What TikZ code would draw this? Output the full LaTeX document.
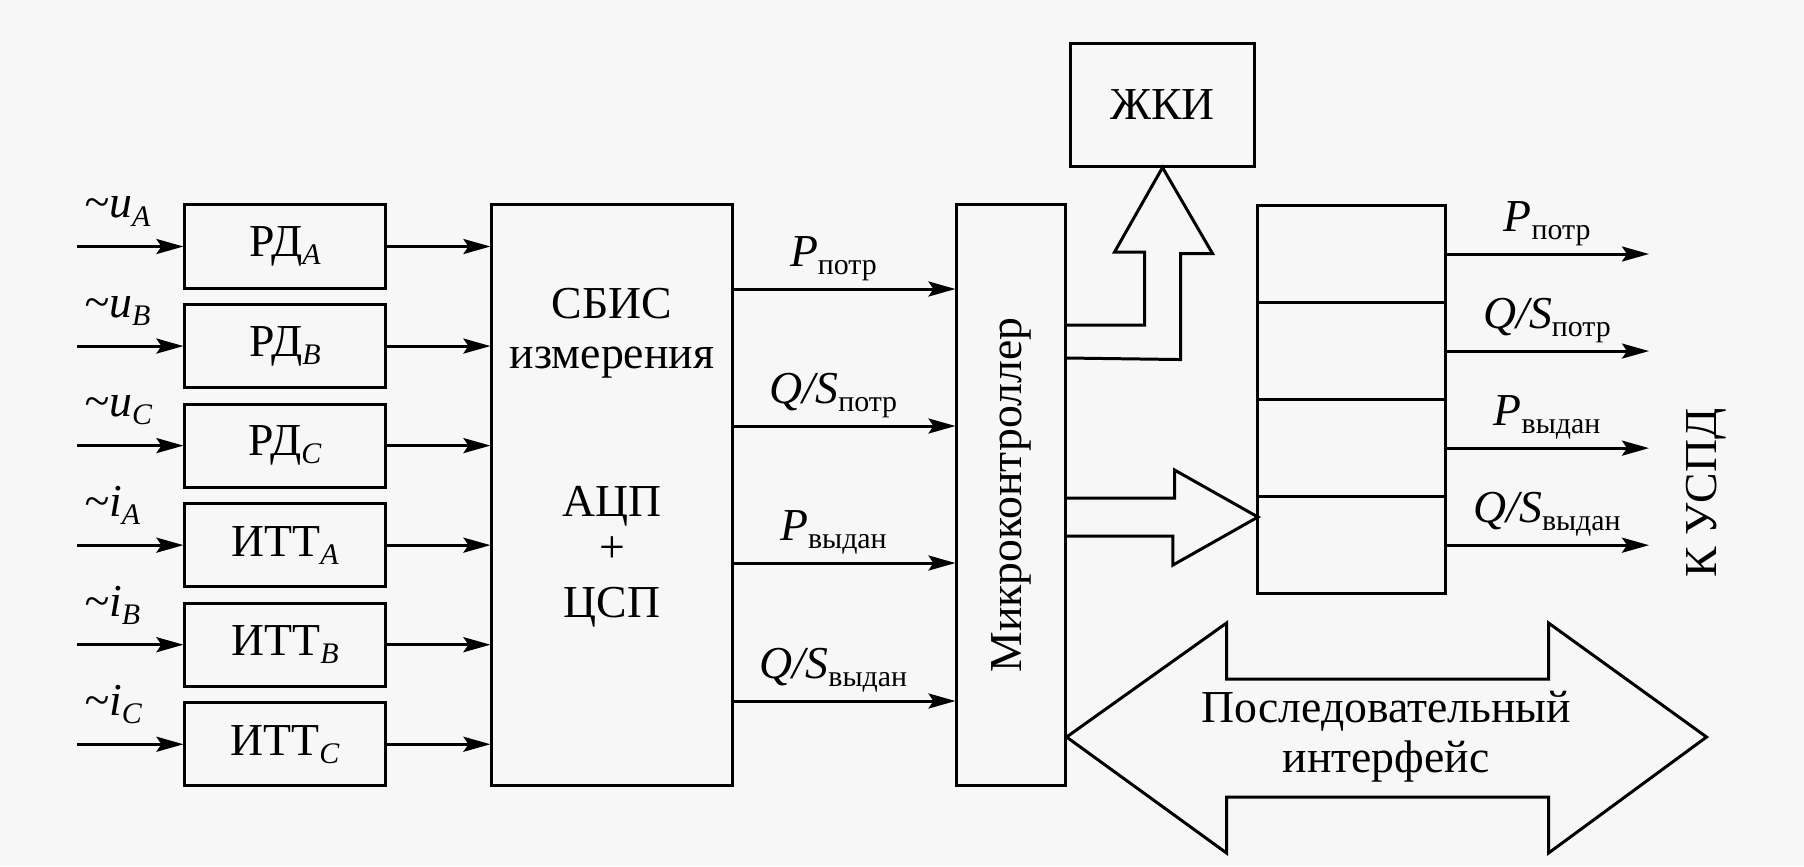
\documentclass[tikz,border=0pt]{standalone}
\usepackage{fontspec}
\setmainfont{Liberation Serif}
\usetikzlibrary{positioning,arrows.meta}

\newcommand\nizh[1]{\raisebox{-2.3pt}{\fontsize{8.5}{9}\selectfont #1}}

\begin{document}
\begin{tikzpicture}[
  x=0.01cm, y=-0.01cm,
  node distance=1.35mm and 8mm,
  blok/.style={draw, line width=0.85pt, minimum width=2cm, minimum height=0.83cm, inner sep=0pt, font=\fontsize{13}{14.2}\selectfont},
  yachejka/.style={draw, line width=0.85pt, minimum width=1.87cm, minimum height=0.97cm, outer sep=0pt},
  strelka/.style={-{Stealth[length=2.7mm, width=1.5mm, inset=0.5mm]}, line width=0.85pt},
  tolsto/.style={line width=0.85pt},
  metka/.style={anchor=south west, inner sep=0pt, xshift=0.06cm, yshift=0.19cm, font=\fontsize{13}{14.2}\selectfont\itshape},
  signal/.style={above, inner sep=2pt, font=\fontsize{13}{14.2}\selectfont},
  tekst/.style={align=center, font=\fontsize{13}{14.2}\selectfont}
]
\fill[black!3] (0,0) rectangle (1804,866);
\useasboundingbox (0,0) rectangle (1804,866);

% входные преобразователи
\node[blok] (rdA) at (285,246.5) {РД\nizh{\textit{A}}};
\node[blok, below=of rdA] (rdB) {РД\nizh{\textit{B}}};
\node[blok, below=of rdB] (rdC) {РД\nizh{\textit{C}}};
\node[blok, below=of rdC] (ittA) {ИТТ\nizh{\textit{A}}};
\node[blok, below=of ittA] (ittB) {ИТТ\nizh{\textit{B}}};
\node[blok, below=of ittB] (ittC) {ИТТ\nizh{\textit{C}}};

\node[blok, minimum width=2.4cm, minimum height=5.8cm] (sbis) at (612,495) {};
\node[tekst] (sbistekst) at (612,458) {СБИС\\измерения\\[0.98cm]АЦП\\[-0.04cm]+\\[0.05cm]ЦСП};

\node[blok, minimum width=1.08cm, minimum height=5.8cm,
  label={[rotate=90, font=\fontsize{13}{14.2}\selectfont]center:Микроконтроллер}] (mk) at (1011,495) {};
\node[blok, minimum width=1.83cm, minimum height=1.22cm] (zhki) at (1162.5,105) {ЖКИ};

% регистр
\node[yachejka] (r1) at (1351.5,254) {};
\node[yachejka, below=0pt of r1] (r2) {};
\node[yachejka, below=0pt of r2] (r3) {};
\node[yachejka, below=0pt of r3] (r4) {};

\coordinate (vhod) at (77,0);
\coordinate (uspd) at (1649,0);

\foreach \uzel/\vh in {rdA/u\nizh{A}, rdB/u\nizh{B}, rdC/u\nizh{C}, ittA/i\nizh{A}, ittB/i\nizh{B}, ittC/i\nizh{C}} {
  \draw[strelka] (\uzel.west -| vhod) node[metka] {\textasciitilde\vh} -- (\uzel);
  \draw[strelka] (\uzel) -- (\uzel -| sbis.west);
}

\foreach \y/\txt in {289/{\textit{P}\nizh{потр}}, 426/{\textit{Q/S}\nizh{потр}}, 563/{\textit{P}\nizh{выдан}}, 701/{\textit{Q/S}\nizh{выдан}}}
  \draw[strelka] (sbis.east |- 0,\y) -- node[signal, pos=0.45] {\txt} (mk.west |- 0,\y);

\foreach \i/\txt in {1/{\textit{P}\nizh{потр}}, 2/{\textit{Q/S}\nizh{потр}}, 3/{\textit{P}\nizh{выдан}}, 4/{\textit{Q/S}\nizh{выдан}}}
  \draw[strelka] (r\i.east) -- node[signal] {\txt} (r\i.east -| uspd);

\node[tekst, rotate=90] (uspdtekst) at (1706,493) {К УСПД};

% широкие стрелки
\draw[tolsto] (mk.east |- 0,325) -- ++(78,0) -- ++(0,-73) -- ++(-30,0) -- (zhki.south)
  -- ++(50,86) -- ++(-32,0) -- ++(0,106) -- (mk.east |- 0,358);
\draw[tolsto] (mk.east |- 0,498) -- ++(108,0) -- ++(0,-28) -- (r4.west |- 0,517)
  -- ++(-85,48) -- ++(0,-29) -- (mk.east |- 0,536);
\draw[tolsto] (mk.east |- 0,737) -- ++(160,-114) -- ++(0,56) -- ++(322,0) -- ++(0,-56)
  -- ++(158,114) -- ++(-158,116) -- ++(0,-56) -- ++(-322,0) -- ++(0,56) -- cycle;
\node[tekst] (interfeis) at (1386,737) {Последовательный\\интерфейс};
\end{tikzpicture}
\end{document}
